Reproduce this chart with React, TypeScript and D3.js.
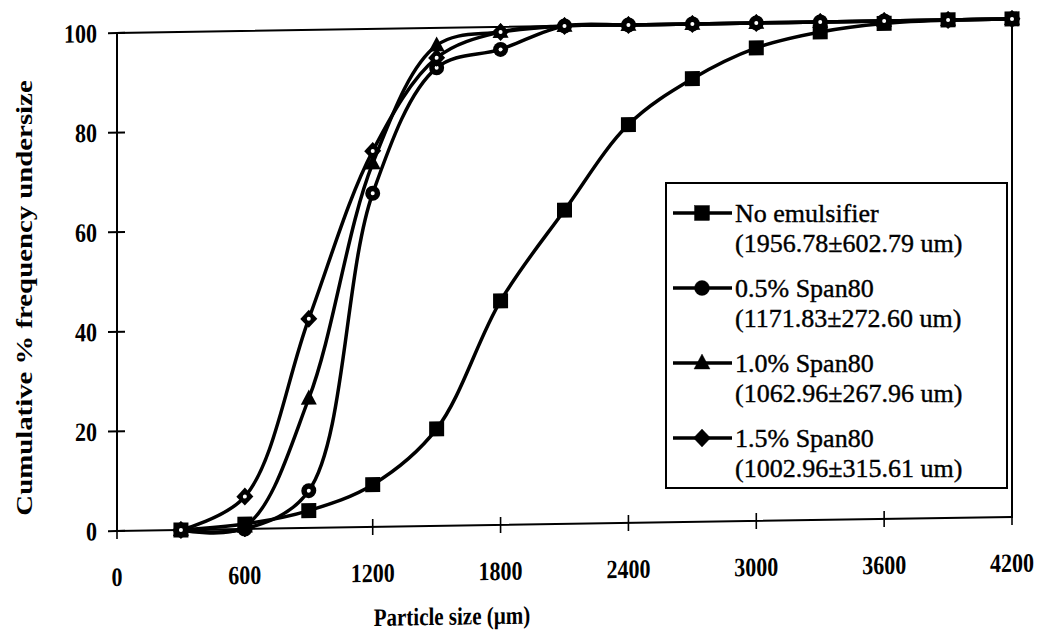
import React from "react";
import * as d3 from "d3";

// Particle size classes (µm)
const sizes = [300, 600, 900, 1200, 1500, 1800, 2100, 2400, 2700, 3000, 3300, 3600, 3900, 4200];

// Cumulative % frequency undersize for each formulation
const noEmulsifier = [0, 1, 3.5, 8.5, 19.5, 45, 63, 80, 89, 95, 98, 99.5, 100, 100];
const span05 = [0, 0, 7.5, 67, 92, 95.5, 100, 100, 100, 100, 100, 100, 100, 100];
const span10 = [0, 0.5, 26, 73, 96.5, 99, 100, 100, 100, 100, 100, 100, 100, 100];
const span15 = [0, 6.5, 42, 75.5, 94, 99, 100, 100, 100, 100, 100, 100, 100, 100];

const xTicks = [0, 600, 1200, 1800, 2400, 3000, 3600, 4200];
const yTicks = [0, 20, 40, 60, 80, 100];

const seriesNames = ["No emulsifier", "0.5% Span80", "1.0% Span80", "1.5% Span80"];
const seriesSub = ["(1956.78±602.79 um)", "(1171.83±272.60 um)", "(1062.96±267.96 um)", "(1002.96±315.61 um)"];
const seriesMarkers = ["square", "circle", "triangle", "diamond"];
const seriesValues = [noEmulsifier, span05, span10, span15];

const W = 1050;
const H = 632;
const left = 117, right = 1012, top = 33, bottom = 531;

const x = d3.scaleLinear().domain([0, 4200]).range([left, right]);
const y = d3.scaleLinear().domain([0, 100]).range([bottom, top]);

const serif = "'Liberation Serif', 'Times New Roman', serif";
// axis lettering is set tall and narrow
const stretch = 1.2;

function Marker({ kind, cx, cy, dot }: { kind: string; cx: number; cy: number; dot: boolean }) {
  let shape: React.ReactNode = null;
  if (kind === "square") {
    shape = <rect x={cx - 7.5} y={cy - 7.5} width={15} height={15} fill="#000" />;
  } else if (kind === "circle") {
    shape = <circle cx={cx} cy={cy} r={7.5} fill="#000" />;
  } else if (kind === "triangle") {
    shape = <path d={`M${cx},${cy - 9}L${cx + 8},${cy + 6}L${cx - 8},${cy + 6}Z`} fill="#000" />;
  } else {
    shape = <path d={`M${cx},${cy - 9}L${cx + 8.5},${cy}L${cx},${cy + 9}L${cx - 8.5},${cy}Z`} fill="#000" />;
  }
  return (
    <g>
      {shape}
      {dot && kind !== "square" && kind !== "triangle" && <circle cx={cx} cy={cy} r={2} fill="#fff" />}
    </g>
  );
}

export default function App() {
  const line = d3
    .line<number>()
    .x((_, i) => x(sizes[i]))
    .y((v) => y(v))
    .curve(d3.curveCatmullRom.alpha(0.5));

  // the whole plot area leans slightly upward to the right
  const skew = -0.9;
  const shift = left * Math.tan((-skew * Math.PI) / 180);

  const legX = 666, legY = 183, legW = 341, legH = 305;

  return (
    <svg width={W} height={H} style={{ position: "absolute", left: 0, top: 0, background: "#fff" }} fontFamily={serif}>
      <rect width={W} height={H} fill="#fff" />
      <g transform={`translate(0,${shift}) skewY(${skew})`}>
        {/* plot frame */}
        <rect x={left} y={top} width={right - left} height={bottom - top} fill="none" stroke="#000" strokeWidth={2} />
        {/* y ticks */}
        {yTicks.map((t) => (
          <g key={"y" + t}>
            <line x1={left - 9} x2={left + 8} y1={y(t)} y2={y(t)} stroke="#000" strokeWidth={2} />
            <text
              transform={`translate(${left - 20},${y(t) + 9}) scale(1,${stretch})`}
              textAnchor="end"
              fontWeight="bold"
              fontSize={22}
            >
              {t}
            </text>
          </g>
        ))}
        {/* x ticks */}
        {xTicks.map((t) => (
          <g key={"x" + t}>
            <line x1={x(t)} x2={x(t)} y1={bottom - 8} y2={bottom + 8} stroke="#000" strokeWidth={1.6} />
            <text
              transform={`translate(${x(t)},${bottom + 55}) scale(1,${stretch})`}
              textAnchor="middle"
              fontWeight="bold"
              fontSize={22}
            >
              {t}
            </text>
          </g>
        ))}
        <text
          transform={`translate(452,630) scale(1,${stretch})`}
          textAnchor="middle"
          fontWeight="bold"
          fontSize={21}
        >
          Particle size (µm)
        </text>

        {/* series curves */}
        {seriesValues.map((vals, si) => (
          <path key={"l" + si} d={line(vals) || ""} fill="none" stroke="#000" strokeWidth={3.5} />
        ))}
        {seriesValues.map((vals, si) =>
          vals.map((v, i) => (
            <Marker key={`m${si}-${i}`} kind={seriesMarkers[si]} cx={x(sizes[i])} cy={y(v)} dot={true} />
          ))
        )}
      </g>

      <text
        transform={`translate(24,298) rotate(-90) scale(${stretch},1)`}
        textAnchor="middle"
        dy="0.35em"
        fontWeight="bold"
        fontSize={24}
      >
        Cumulative % frequency undersize
      </text>

      {/* legend */}
      <rect x={legX} y={legY} width={legW} height={legH} fill="#fff" stroke="#000" strokeWidth={2} />
      {seriesNames.map((name, i) => {
        const cy = legY + 30 + i * 75;
        return (
          <g key={"leg" + i} stroke="#000" strokeWidth={0.4}>
            <line x1={legX + 7} x2={legX + 66} y1={cy} y2={cy} strokeWidth={3.5} />
            <Marker kind={seriesMarkers[i]} cx={legX + 36} cy={cy} dot={false} />
            <text x={legX + 69} y={cy} dy="0.35em" fontSize={26}>
              {name}
            </text>
            <text x={legX + 69} y={cy + 30} dy="0.35em" fontSize={26}>
              {seriesSub[i]}
            </text>
          </g>
        );
      })}
    </svg>
  );
}
